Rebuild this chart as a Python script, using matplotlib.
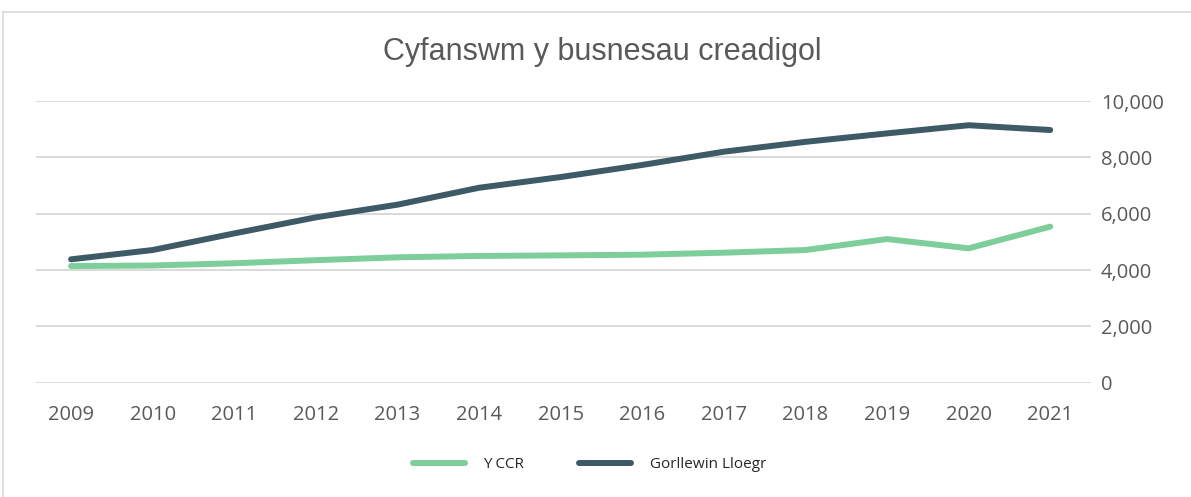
import matplotlib
matplotlib.use("Agg")
import matplotlib.pyplot as plt
from matplotlib.lines import Line2D
from matplotlib.ticker import FuncFormatter

years = ["2009", "2010", "2011", "2012", "2013", "2014", "2015",
         "2016", "2017", "2018", "2019", "2020", "2021"]
y_ccr = [4140, 4160, 4240, 4350, 4450, 4500, 4520, 4545, 4615, 4710, 5100, 4770, 5540]
gorllewin_lloegr = [4380, 4710, 5300, 5870, 6320, 6920, 7300, 7730, 8200, 8550, 8850, 9140, 8970]

GREEN = "#7DCE9B"
DARK = "#3D5A66"
GREY_TEXT = "#595959"

fig = plt.figure(figsize=(11.91, 4.97), dpi=100)
ax = fig.add_axes([36 / 1191, 1 - 382.7 / 497, (1091 - 36) / 1191, (382.7 - 101) / 497])

x = list(range(len(years)))
ax.plot(x, y_ccr, color=GREEN, lw=4.3, solid_capstyle="round", label="Y CCR")
ax.plot(x, gorllewin_lloegr, color=DARK, lw=4.3, solid_capstyle="round", label="Gorllewin Lloegr")

ax.set_xlim(-0.43, 12.5)
ax.set_ylim(0, 10000)
ax.set_yticks(range(0, 10001, 2000))
ax.yaxis.set_major_formatter(FuncFormatter(lambda v, p: f"{int(v):,}"))
ax.yaxis.tick_right()
ax.set_xticks(x)
ax.set_xticklabels(years)

ax.grid(axis="y", color="#D9D9D9", lw=1.4)
ax.set_axisbelow(True)
for s in ax.spines.values():
    s.set_visible(False)
ax.tick_params(axis="both", length=0, colors=GREY_TEXT, labelsize=14.5)
ax.tick_params(axis="x", pad=16)
ax.tick_params(axis="y", pad=7)
for lab in ax.get_xticklabels() + ax.get_yticklabels():
    lab.set_family("Open Sans")

fig.text(0.506, 1 - 52 / 497, "Cyfanswm y busnesau creadigol", ha="center", va="center",
         fontsize=22, color=GREY_TEXT, family="Liberation Sans")

leg = fig.legend(loc="center", bbox_to_anchor=(0.495, 1 - 465 / 497), ncol=2, frameon=False,
                 fontsize=11, handlelength=3.4, columnspacing=3.6, handletextpad=1.2)
for t in leg.get_texts():
    t.set_color("#262626")
    t.set_family("Open Sans")

# chart border (top and left edges visible)
fig.add_artist(Line2D([3 / 1191, 3 / 1191], [0, 1 - 12 / 497], transform=fig.transFigure,
                      color="#D9D9D9", lw=1.2))
fig.add_artist(Line2D([3 / 1191, 1], [1 - 12 / 497, 1 - 12 / 497], transform=fig.transFigure,
                      color="#D9D9D9", lw=1.2))

fig.savefig("out.png", dpi=100, facecolor="white")
